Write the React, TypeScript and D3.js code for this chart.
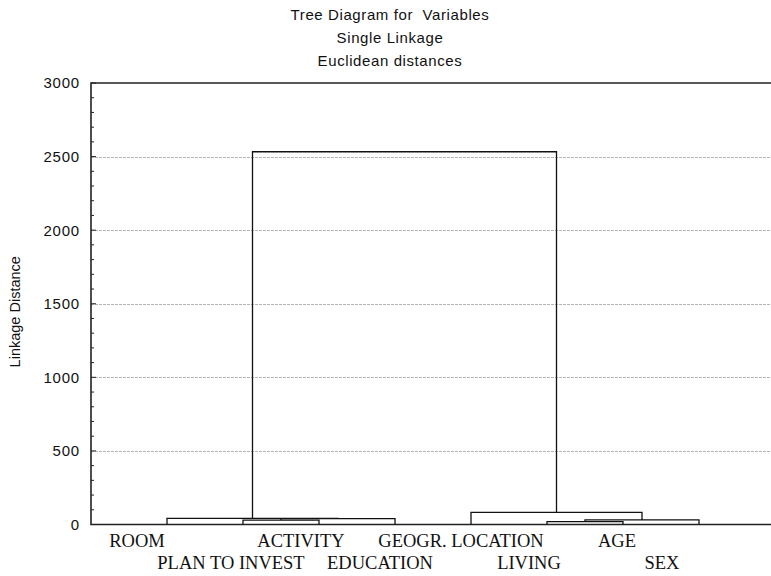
import React, { useEffect, useRef } from "react";
import * as d3 from "d3";

// leaves in drawing order
const leafNames = [
  "ROOM",
  "PLAN TO INVEST",
  "ACTIVITY",
  "EDUCATION",
  "GEOGR. LOCATION",
  "LIVING",
  "AGE",
  "SEX",
];

// merges: [child A, child B, linkage distance]; ids 0-7 are leaves, merges get 8, 9, ...
const mergeChildren = [
  [1, 2],
  [5, 6],
  [9, 7],
  [8, 3],
  [0, 11],
  [4, 10],
  [12, 13],
];
const mergeHeights = [30, 19, 31, 40, 42, 83, 2533];

const titleLines = ["Tree Diagram for  Variables", "Single Linkage", "Euclidean distances"];
const yTicks = [0, 500, 1000, 1500, 2000, 2500, 3000];

// small nudges so the labels sit like in the original printout
const labelShift = [-30, -12, -18, -15, -10, -18, -6, -37];

const App = () => {
  const svgRef = useRef<SVGSVGElement>(null);

  useEffect(() => {
    const width = 771;
    const height = 576;
    const left = 91;
    const top = 83;
    const bottom = 524.5;
    const right = 775;

    const svg = d3.select(svgRef.current);
    svg.selectAll("*").remove();

    svg.append("rect").attr("width", width).attr("height", height).attr("fill", "#ffffff");

    const x = d3.scaleLinear().domain([0, leafNames.length + 1]).range([left, right]);
    const y = d3.scaleLinear().domain([0, 3000]).range([bottom, top]);

    // titles
    svg
      .selectAll("text.title")
      .data(titleLines)
      .join("text")
      .attr("class", "title")
      .attr("x", 390)
      .attr("y", (d, i) => 20 + i * 23)
      .attr("text-anchor", "middle")
      .style("font-family", "'Liberation Sans', Arial, sans-serif")
      .style("font-size", "15px")
      .style("letter-spacing", "0.6px")
      .style("white-space", "pre")
      .style("fill", "#111")
      .text((d) => d);

    // grid lines
    svg
      .selectAll("line.grid")
      .data(yTicks.filter((t) => t > 0 && t < 3000))
      .join("line")
      .attr("class", "grid")
      .attr("x1", left)
      .attr("x2", width)
      .attr("y1", (d) => Math.round(y(d)) + 0.5)
      .attr("y2", (d) => Math.round(y(d)) + 0.5)
      .attr("stroke", "#b4b4b4")
      .attr("stroke-dasharray", "3,1");

    // frame
    svg
      .append("path")
      .attr("d", `M${width},${top}H${left}V${bottom}H${width}`)
      .attr("fill", "none")
      .attr("stroke", "#222")
      .attr("stroke-width", 1.6);

    // y ticks (inward), minor every 100
    const minor = d3.range(0, 3001, 100);
    svg
      .selectAll("line.tick")
      .data(minor)
      .join("line")
      .attr("class", "tick")
      .attr("x1", left)
      .attr("x2", (d) => left + (d % 500 === 0 ? 5 : 3))
      .attr("y1", (d) => y(d))
      .attr("y2", (d) => y(d))
      .attr("stroke", "#222");

    svg
      .selectAll("text.ylab")
      .data(yTicks)
      .join("text")
      .attr("class", "ylab")
      .attr("x", 80)
      .attr("y", (d) => y(d))
      .attr("dy", "0.36em")
      .attr("text-anchor", "end")
      .style("font-family", "'Liberation Sans', Arial, sans-serif")
      .style("font-size", "15px")
      .style("letter-spacing", "0.8px")
      .style("fill", "#111")
      .text((d) => d);

    svg
      .append("text")
      .attr("transform", `translate(20, ${(top + bottom) / 2 + 8}) rotate(-90)`)
      .attr("text-anchor", "middle")
      .style("font-family", "'Liberation Sans', Arial, sans-serif")
      .style("font-size", "14.5px")
      .style("fill", "#111")
      .text("Linkage Distance");

    // build dendrogram: each merge joins the midpoints of its children
    const nodeX: number[] = leafNames.map((d, i) => x(i + 1));
    const nodeH: number[] = leafNames.map(() => 0);
    const segs: string[] = [];
    mergeChildren.forEach(([a, b], i) => {
      const h = mergeHeights[i];
      const ya = y(nodeH[a]);
      const yb = y(nodeH[b]);
      const ym = y(h);
      segs.push(`M${nodeX[a]},${ya}V${ym}H${nodeX[b]}V${yb}`);
      nodeX.push((nodeX[a] + nodeX[b]) / 2);
      nodeH.push(h);
    });

    svg
      .selectAll("path.link")
      .data(segs)
      .join("path")
      .attr("class", "link")
      .attr("d", (d) => d)
      .attr("fill", "none")
      .attr("stroke", "#111")
      .attr("stroke-width", 1.3);

    // leaf labels in two staggered rows
    svg
      .selectAll("text.leaf")
      .data(leafNames)
      .join("text")
      .attr("class", "leaf")
      .attr("x", (d, i) => x(i + 1) + labelShift[i])
      .attr("y", (d, i) => (i % 2 === 0 ? 547 : 569))
      .attr("text-anchor", "middle")
      .style("font-family", "'Liberation Serif', 'Times New Roman', serif")
      .style("font-size", "18.5px")
      .style("fill", "#111")
      .text((d) => d);
  }, []);

  return (
    <svg
      ref={svgRef}
      width={771}
      height={576}
      style={{ position: "absolute", left: 0, top: 0 }}
    ></svg>
  );
};

export default App;
